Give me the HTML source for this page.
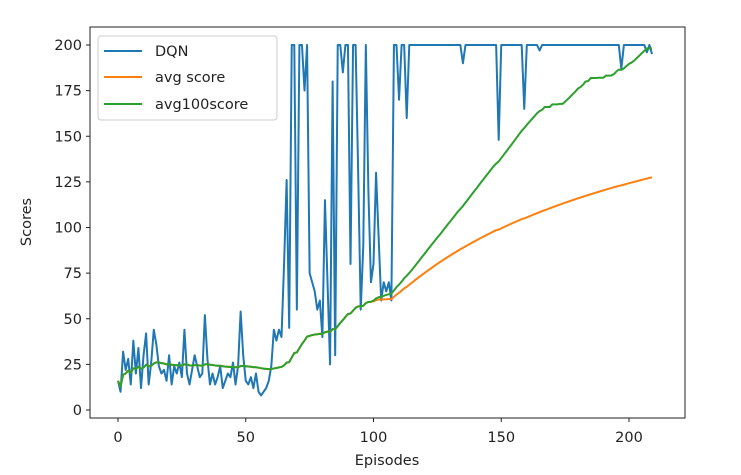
<!DOCTYPE html>
<html><head><meta charset="utf-8"><style>
body{margin:0;background:#fff;}
svg text{font-family:"DejaVu Sans","Liberation Sans",sans-serif;font-size:14.5px;fill:#222;}
</style></head><body>
<svg id="chart" width="741" height="470">
<rect x="90" y="27" width="595" height="391" fill="#fff" stroke="#222" stroke-width="1"/>
<g id="ticks"></g>
<g id="series"></g>
<text x="387" y="465" text-anchor="middle">Episodes</text>
<text transform="translate(31,222) rotate(-90)" text-anchor="middle">Scores</text>
<g>
<rect x="98" y="36" width="179" height="84" rx="3" fill="#fff" fill-opacity="0.85" stroke="#ccc"/>
<g><line x1="104" y1="51" x2="142" y2="51" stroke="#1f77b4" stroke-width="2"/><text x="155" y="56">DQN</text></g>
<g><line x1="104" y1="77" x2="142" y2="77" stroke="#ff7f0e" stroke-width="2"/><text x="155" y="82">avg score</text></g>
<g><line x1="104" y1="104" x2="142" y2="104" stroke="#2ca02c" stroke-width="2"/><text x="155" y="109">avg100score</text></g>
</g>
</svg>
<script>
const xTicks=[0,50,100,150,200];
const yTicks=[0,25,50,75,100,125,150,175,200];
const early=[16,10,32,22,28,14,38,20,34,12,30,42,14,26,44,36,24,20,22,16,30,14,24,20,26,18,44,20,14,22,30,24,18,20,52,28,14,20,14,18,24,12,16,20,18,26,14,24,54,30,16,14,18,12,20,10,8,10,12,16];
const mid=[24,44,38,44,40,80,126,45,200,200,55,200,200,175,200,75,70,65,55,60,40,115,70,25,180,30,200,200,185,200,200,80,200,200,130,55,90,200,120,70,80,130,95,60,70,65,70,60,200,200,170,200,200,160];
const late=[200,200,200,200,200,200,200,200,200,200,200,200,200,200,200,200,200,200,200,200,200,190,200,200,200,200,200,200,200,200,200,200,200,200,200,148,200,200,200,200,200,200,200,200,200,165,200,200,200,200,200,197,200,200,200,200,200,200,200,200,200,200,200,200,200,200,200,200,200,200,200,200,200,200,200,200,200,200,200,200,200,200,200,187,200,200,200,200,200,200,200,200,200,196,200,195,200];
const dqn=early.concat(mid,late).slice(0,210);
const avgScore=dqn.map((v,i)=>{let s=0;for(let j=0;j<=i;j++)s+=dqn[j];return s/(i+1);});
const avg100=dqn.map((v,i)=>{let a=Math.max(0,i-99),s=0;for(let j=a;j<=i;j++)s+=dqn[j];return s/(i-a+1);});
const X=e=>118+e*2.555, Y=v=>410-v*1.825;
const NS="http://www.w3.org/2000/svg";
const tg=document.getElementById('ticks');
function mk(t,a,p){const e=document.createElementNS(NS,t);for(const k in a)e.setAttribute(k,a[k]);p.appendChild(e);return e;}
xTicks.forEach(t=>{
const g=mk('g',{},tg);


mk('line',{x1:X(t),x2:X(t),y1:418,y2:422,stroke:'#222'},g);
mk('text',{x:X(t),y:442,'text-anchor':'middle'},g).textContent=t;});
yTicks.forEach(t=>{
const g=mk('g',{},tg);


mk('line',{x1:86,x2:90,y1:Y(t),y2:Y(t),stroke:'#222'},g);
mk('text',{x:82,y:Y(t)+5,'text-anchor':'end'},g).textContent=t;});
const sg=document.getElementById('series');
[[dqn,'#1f77b4','dqn-line'],[avgScore,'#ff7f0e','avg-score-line'],[avg100,'#2ca02c','avg100score-line']].forEach(([d,c,n])=>{
const p=mk('polyline',{points:d.map((v,i)=>X(i)+','+Y(v)).join(' '),fill:'none',stroke:c,'stroke-width':2,'stroke-linejoin':'round'},sg);

});
</script>
</body></html>
